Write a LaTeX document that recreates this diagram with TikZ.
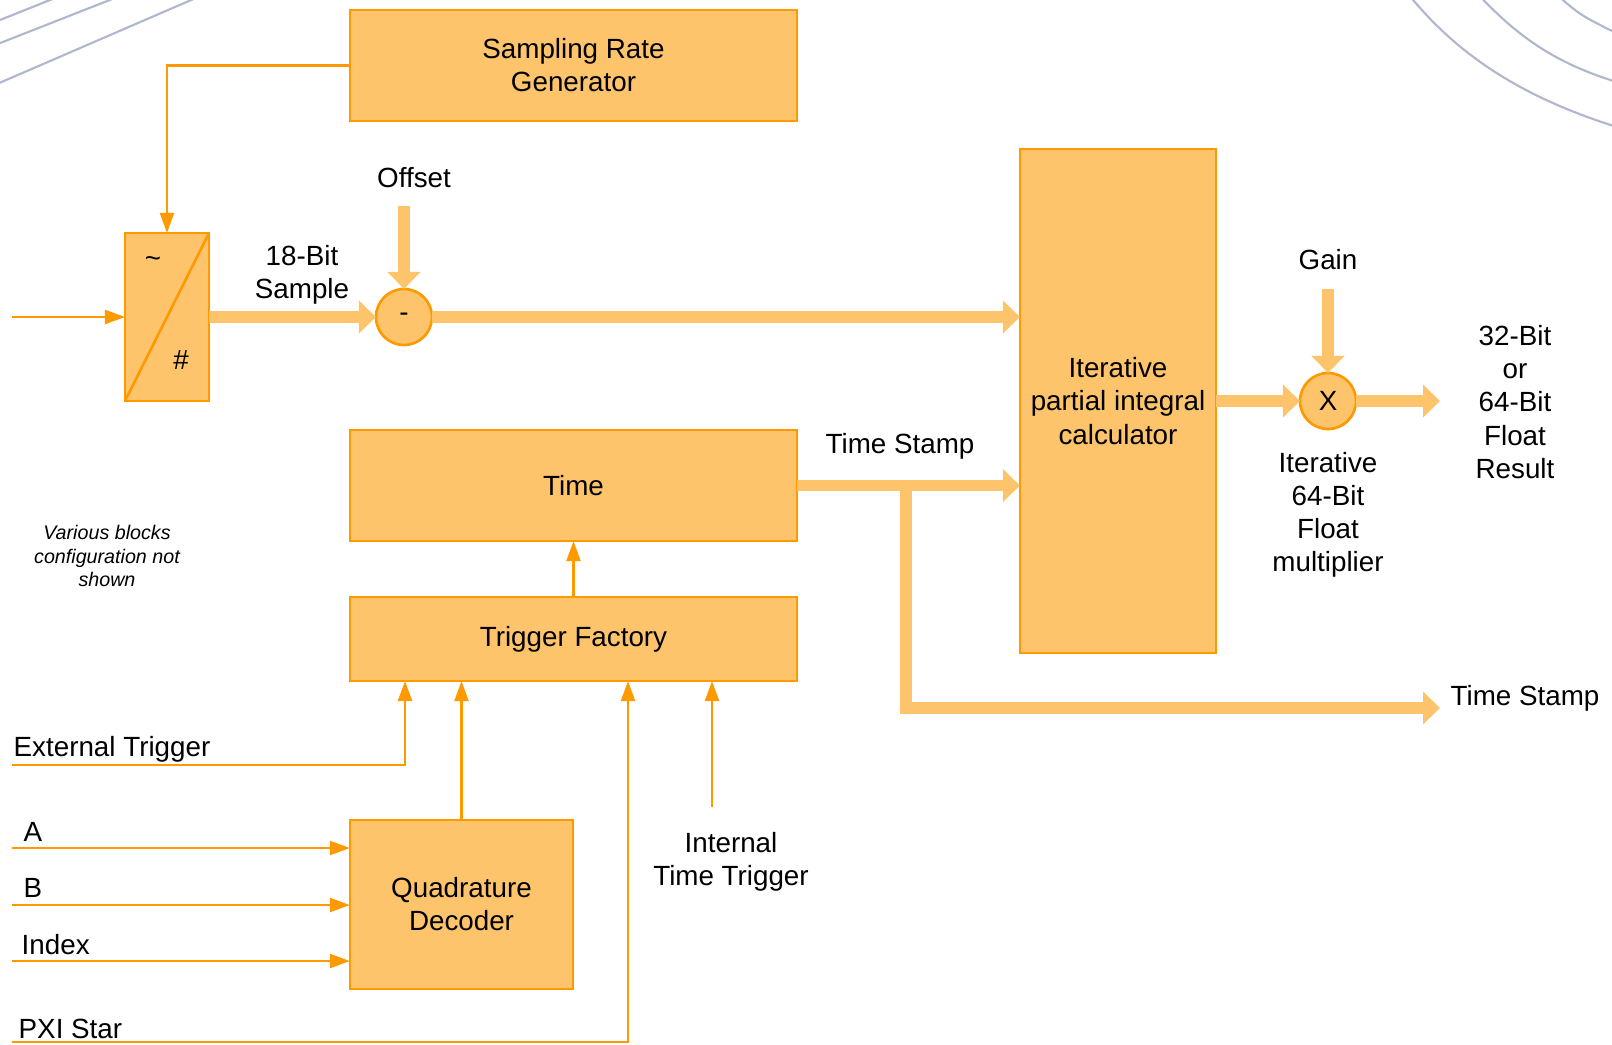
\documentclass[tikz,border=0pt]{standalone}
\usepackage{fontspec}
\setsansfont{Liberation Sans}
\usetikzlibrary{arrows.meta}
\definecolor{boxfill}{RGB}{253,196,108}
\definecolor{boxline}{RGB}{255,153,0}
\definecolor{arcgray}{RGB}{176,182,206}
\begin{document}
\begin{tikzpicture}[x=0.01cm,y=-0.01cm,font=\sffamily\fontsize{7.9}{9.4}\selectfont,
	f/.style={draw=boxline,fill=boxfill,line width=0.75pt,align=center,inner sep=1pt,outer sep=0pt},
	o/.style={f,circle,minimum size=0.56cm},
	t/.style={align=center,inner sep=0pt},
	thk/.style={draw=boxfill,line width=3.2pt,-{Triangle[length=0.17cm,width=0.32cm]}},
	thn/.style={draw=boxline,line width=0.6pt,-{Triangle[length=0.2cm,width=0.14cm]}}]
	\useasboundingbox (0,0) rectangle (1612,1044);
	% background arcs
	\begin{scope}
		\clip (0,0) rectangle (1612,1044);
		\draw[arcgray,line width=0.6pt] (-10,24) -- (60,-4) (-10,47) -- (120,-4) (-10,87) -- (205,-6);
		\draw[arcgray,line width=0.6pt] (1405,-10) .. controls (1460,60) and (1530,100) .. (1620,128);
		\draw[arcgray,line width=0.6pt] (1476,-8) .. controls (1520,40) and (1560,65) .. (1620,83);
		\draw[arcgray,line width=0.6pt] (1556,-6) .. controls (1580,15) .. (1620,35);
	\end{scope}
	% blocks
	\node[f,minimum width=4.47cm,minimum height=1.11cm] (srg) at (573.5,65.5) {Sampling Rate\\Generator};
	\node[f,minimum width=0.84cm,minimum height=1.68cm] (adc) at (167,317) {};
	\draw[boxline,line width=0.75pt] (adc.south west) -- (adc.north east);
	\node (tilde) at (153,262) {\textasciitilde};
	\node (hash) at (181,360) {\#};
	\node[o] (sub) at (404,317) {-};
	\node[f,minimum width=1.96cm,minimum height=5.04cm] (iter) at (1118,401) {Iterative\\partial integral\\calculator};
	\node[o] (mul) at (1328,401) {X};
	\node[f,minimum width=4.47cm,minimum height=1.11cm] (time) at (573.5,485.5) {Time};
	\node[f,minimum width=4.47cm,minimum height=0.84cm] (tf) at (573.5,639) {Trigger Factory};
	\node[f,minimum width=2.23cm,minimum height=1.69cm] (qd) at (461.5,904.5) {Quadrature\\Decoder};
	% labels
	\node[t] (bits) at (302,275) {18-Bit\\Sample};
	\node[t] (offset) at (414,178) {Offset};
	\node[t] (gain) at (1328,260) {Gain};
	\node[t] (res) at (1515,402) {32-Bit\\or\\64-Bit\\Float\\Result};
	\node[t] (mulnote) at (1328,515) {Iterative\\64-Bit\\Float\\multiplier};
	\node[t] (tslabel) at (900,446) {Time Stamp};
	\node[t] (tsout) at (1525,698) {Time Stamp};
	\node[t,font=\sffamily\itshape\fontsize{5.6}{6.7}\selectfont] (various) at (107,556) {Various blocks\\configuration not\\shown};
	\node[t,anchor=west] (extlbl) at (13,749) {External Trigger};
	\node[t,anchor=west] (albl) at (23,832) {A};
	\node[t,anchor=west] (blbl) at (23,888) {B};
	\node[t,anchor=west] (idxlbl) at (21,945) {Index};
	\node[t,anchor=west] (pxilbl) at (18,1029) {PXI Star};
	\node[t] (intlbl) at (731,862) {Internal\\Time Trigger};
	% signal path
	\coordinate (adcin) at (12,317);
	\coordinate (offin) at (404,206);
	\coordinate (gainin) at (1328,289);
	\coordinate (resend) at (1440,401);
	\coordinate (tsfork) at (time.east -| 906,0);
	\coordinate (tsend) at (1440,708);
	\draw[thn] (adcin) -- (adc.west);
	\draw[thn] (srg.west) -| (adc.north);
	\draw[thk] (adc.east) -- (sub.west);
	\draw[thk] (offin) -- (sub.north);
	\draw[thk] (sub.east) -- (sub.east -| iter.west);
	\draw[thk] (iter.east) -- (mul.west);
	\draw[thk] (gainin) -- (mul.north);
	\draw[thk] (mul.east) -- (resend);
	\draw[thk] (time.east) -- (time.east -| iter.west);
	\draw[thk,line join=miter] (tsfork) |- (tsend);
	% triggers
	\coordinate (extin) at (12,765);
	\coordinate (ain) at (12,848);
	\coordinate (bin) at (12,905);
	\coordinate (idxin) at (12,961);
	\coordinate (pxiin) at (12,1042);
	\coordinate (intin) at (712,807);
	\draw[thn] (tf.north) -- (time.south);
	\draw[thn] (qd.north) -- (qd.north |- tf.south);
	\draw[thn] (extin) -| (tf.south -| 405,0);
	\draw[thn] (pxiin) -| (tf.south -| 628,0);
	\draw[thn] (intin) -- (intin |- tf.south);
	\foreach \n in {ain,bin,idxin} \draw[thn] (\n) -- (\n -| qd.west);
\end{tikzpicture}
\end{document}
